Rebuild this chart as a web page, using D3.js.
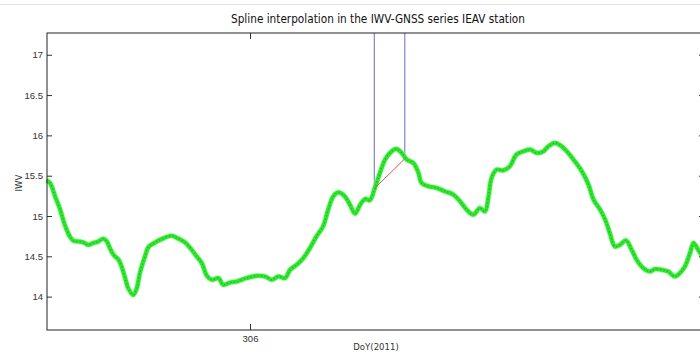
<!DOCTYPE html>
<html>
<head>
<meta charset="utf-8">
<script src="https://cdnjs.cloudflare.com/ajax/libs/d3/7.8.5/d3.min.js"></script>
<style>
  body { margin: 0; background: #fff; }
  svg { display: block; font-family: "Liberation Sans Narrow", "Arial Narrow", "DejaVu Sans Condensed", sans-serif; }
  .tick text { fill: #333; font-size: 9.5px; }
  .domain { display: none; }
</style>
</head>
<body>
<div class="chart"><svg></svg></div>
<script>
// DoY (2011) and IWV
var doy = [305.599,305.606,305.616,305.626,305.635,305.645,305.652,305.662,305.672,305.681,
  305.691,305.701,305.711,305.718,305.724,305.731,305.741,305.747,305.754,305.760,
  305.770,305.777,305.783,305.793,305.800,305.813,305.826,305.846,305.859,305.872,
  305.885,305.895,305.905,305.915,305.925,305.938,305.947,305.961,305.974,305.993,
  306.013,306.030,306.043,306.056,306.069,306.079,306.092,306.105,306.118,306.131,
  306.144,306.154,306.164,306.174,306.187,306.197,306.207,306.217,306.227,306.236,
  306.246,306.256,306.266,306.276,306.288,306.299,306.309,306.322,306.332,306.338,
  306.352,306.368,306.384,306.401,306.414,306.427,306.440,306.453,306.463,306.470,
  306.476,306.486,306.499,306.512,306.525,306.539,306.552,306.565,306.578,306.588,
  306.601,306.614,306.627,306.640,306.654,306.667,306.677,306.690,306.700,306.709,
  306.719,306.729,306.741,306.752,306.762,306.775,306.788,306.798,306.811,306.824,
  306.837,306.847,306.857,306.867,306.874,306.883,306.893];
var iwv = [15.442,15.410,15.243,15.078,14.892,14.747,14.693,14.684,14.672,14.643,
  14.665,14.684,14.718,14.684,14.602,14.519,14.457,14.374,14.230,14.106,
  14.022,14.106,14.292,14.498,14.615,14.672,14.714,14.755,14.718,14.672,
  14.581,14.498,14.416,14.260,14.209,14.230,14.147,14.175,14.188,14.230,
  14.258,14.250,14.209,14.250,14.230,14.333,14.395,14.478,14.602,14.747,
  14.871,15.078,15.243,15.293,15.243,15.140,15.029,15.140,15.211,15.196,
  15.348,15.534,15.699,15.783,15.832,15.783,15.699,15.658,15.534,15.410,
  15.368,15.348,15.306,15.265,15.181,15.078,15.016,15.099,15.057,15.243,
  15.472,15.575,15.566,15.616,15.761,15.802,15.824,15.783,15.802,15.865,
  15.907,15.865,15.783,15.678,15.554,15.389,15.202,15.078,14.954,14.789,
  14.622,14.643,14.697,14.581,14.457,14.354,14.312,14.342,14.333,14.312,
  14.250,14.292,14.374,14.540,14.665,14.581,14.482];

// gap limits (blue lines) and the linear fill (red)
var gapDoy = [306.245, 306.305];
var gapIwv = [15.34, 15.71];

var yTicks = [14, 14.5, 15, 15.5, 16, 16.5, 17];
var xTicks = [306];

var width = 700, height = 361;
var plotL = 47, plotR = 704, plotT = 33, plotB = 330;

var svg = d3.select(".chart").select("svg")
    .attr("width", width)
    .attr("height", height);

var x = d3.scaleLinear().domain([305.6, 306.8946]).range([plotL, plotR]);
var y = d3.scaleLinear().domain([13.586, 17.27]).range([plotB, plotT]);

// faint screenshot rule at the very top
svg.append("line")
    .attr("x1", 0).attr("x2", width).attr("y1", 4.5).attr("y2", 4.5)
    .attr("stroke", "#e4e4e4");

svg.append("text")
    .attr("x", 378).attr("y", 23)
    .attr("text-anchor", "middle")
    .attr("font-size", 11.7)
    .attr("fill", "#111")
    .text("Spline interpolation in the IWV-GNSS series IEAV station");

var g = svg.append("g");

// blue gap markers
g.selectAll(".gap")
    .data(d3.range(gapDoy.length))
    .enter()
    .append("line")
    .attr("class", "gap")
    .attr("x1", function(i) { return x(gapDoy[i]); })
    .attr("x2", function(i) { return x(gapDoy[i]); })
    .attr("y1", plotT)
    .attr("y2", function(i) { return y(gapIwv[i]); })
    .attr("stroke", "#7f86c9")
    .attr("stroke-width", 1.2);

var pts = doy.map(function(d, i) { return [d, iwv[i]]; });

var line = d3.line()
    .x(function(d) { return x(d[0]); })
    .y(function(d) { return y(d[1]); })
    .curve(d3.curveCatmullRom);

// soft halo, green body, then dark speckle standing in for the '*' markers
g.append("path")
    .attr("d", line(pts))
    .attr("fill", "none")
    .attr("stroke", "#9df59d")
    .attr("stroke-width", 6)
    .attr("stroke-linejoin", "round")
    .attr("opacity", 0.6);

g.append("path")
    .attr("d", line(pts))
    .attr("fill", "none")
    .attr("stroke", "#2ee82e")
    .attr("stroke-width", 4.2)
    .attr("stroke-linejoin", "round");

g.append("path")
    .attr("d", line(pts))
    .attr("fill", "none")
    .attr("stroke", "#2f7f3c")
    .attr("stroke-width", 1.3)
    .attr("stroke-dasharray", "1.2 2.3")
    .attr("opacity", 0.6);

// linear fill of the gap
g.append("line")
    .attr("x1", x(gapDoy[0])).attr("y1", y(gapIwv[0]))
    .attr("x2", x(gapDoy[1])).attr("y2", y(gapIwv[1]))
    .attr("stroke", "#d8474a")
    .attr("stroke-width", 0.9);

// axes, ticks inward like MATLAB
svg.append("g")
    .attr("transform", "translate(" + plotL + ",0)")
    .call(d3.axisLeft(y).tickValues(yTicks).tickSize(-5).tickPadding(4)
        .tickFormat(function(d) { return d; }));

svg.append("g")
    .attr("transform", "translate(" + plotR + ",0)")
    .call(d3.axisRight(y).tickValues(yTicks).tickSize(-5).tickFormat(""));

svg.append("g")
    .attr("transform", "translate(0," + plotB + ")")
    .call(d3.axisBottom(x).tickValues(xTicks).tickSize(-6).tickPadding(5)
        .tickFormat(function(d) { return d; }));

svg.append("g")
    .attr("transform", "translate(0," + plotT + ")")
    .call(d3.axisTop(x).tickValues(xTicks).tickSize(-6).tickFormat(""));

svg.selectAll(".tick line").attr("stroke", "#333");

svg.append("rect")
    .attr("x", plotL).attr("y", plotT)
    .attr("width", plotR - plotL).attr("height", plotB - plotT)
    .attr("fill", "none")
    .attr("stroke", "#222")
    .attr("stroke-width", 1);

svg.append("text")
    .attr("x", 376).attr("y", 350)
    .attr("text-anchor", "middle")
    .attr("font-size", 9.5)
    .attr("fill", "#333")
    .text("DoY(2011)");

svg.append("text")
    .attr("transform", "translate(22,183) rotate(-90)")
    .attr("text-anchor", "middle")
    .attr("font-size", 9.5)
    .attr("fill", "#333")
    .text("IWV");
</script>
</body>
</html>
